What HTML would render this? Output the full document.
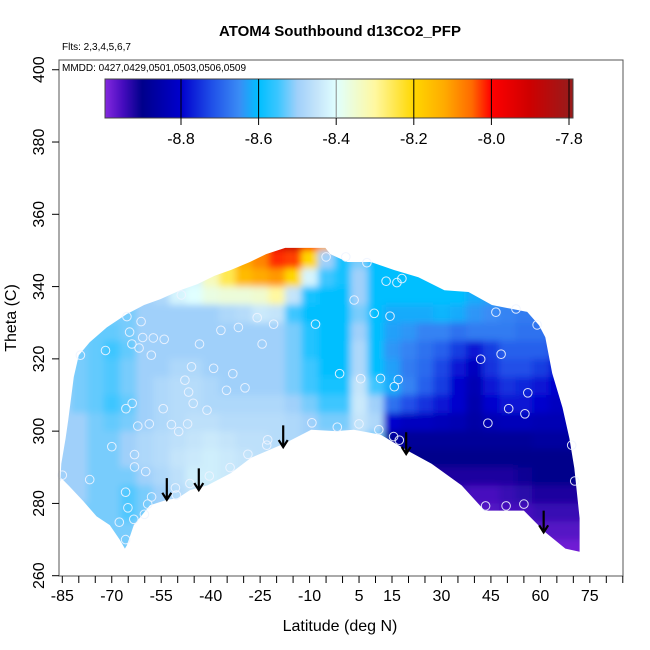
<!DOCTYPE html>
<html><head><meta charset="utf-8">
<style>
html,body{margin:0;padding:0;background:#fff;}
svg{display:block;font-family:"Liberation Sans",sans-serif;}
</style></head>
<body>
<svg id="chart" width="650" height="650" viewBox="0 0 650 650" xmlns="http://www.w3.org/2000/svg">
  <defs>
    <filter id="smooth" x="-5%" y="-5%" width="110%" height="110%"><feGaussianBlur stdDeviation="3.5"/></filter>
    <clipPath id="regionClip"><polygon id="regionPoly" points=""/></clipPath>
  </defs>
  <rect x="0" y="0" width="650" height="650" fill="#fff"/>
  <text x="340" y="36" text-anchor="middle" font-size="15" font-weight="bold">ATOM4 Southbound d13CO2_PFP</text>
  <text x="62" y="50" font-size="10">Flts: 2,3,4,5,6,7</text>
  <g id="heat-clip" clip-path="url(#regionClip)"><g id="heat" filter="url(#smooth)"></g></g>
  <g id="points"></g>
  <g id="arrows"></g>
  <rect x="59" y="60" width="564" height="516" fill="none" stroke="#555" stroke-width="1"/>
  <text x="62" y="71" font-size="10">MMDD: 0427,0429,0501,0503,0506,0509</text>
  <g id="colorbar"></g>
  <g id="xaxis"></g>
  <g id="yaxis"></g>
  <text x="340" y="631" text-anchor="middle" font-size="16">Latitude (deg N)</text>
  <text x="0" y="0" transform="translate(16,318) rotate(-90)" text-anchor="middle" font-size="16">Theta (C)</text>
</svg>
<script>
const latCenters=[-85,-80,-75,-70,-65,-60,-55,-50,-45,-40,-35,-30,-25,-20,-15,-10,-5,0,5,10,15,20,25,30,35,40,45,50,55,60,65,70];
const thetaCenters=[352.5,347.5,342.5,337.5,332.5,327.5,322.5,317.5,312.5,307.5,302.5,297.5,292.5,287.5,282.5,277.5,272.5,267.5];
const zRows=[
[-8.5,-8.5,-8.5,-8.5,-8.5,-8.5,-8.5,-8.5,-8.45,-8.4,-8.35,-8.2,-8.1,-7.92,-7.88,-8.0,-8.12,-8.58,-8.55,-8.6,-8.6,-8.6,-8.6,-8.6,-8.6,-8.62,-8.63,-8.64,-8.65,-8.66,-8.66,-8.66],
[-8.5,-8.5,-8.5,-8.5,-8.5,-8.5,-8.5,-8.48,-8.42,-8.35,-8.25,-8.12,-8.08,-8.02,-8.03,-8.2,-8.5,-8.58,-8.52,-8.6,-8.6,-8.6,-8.6,-8.6,-8.6,-8.62,-8.63,-8.64,-8.65,-8.66,-8.66,-8.66],
[-8.5,-8.5,-8.5,-8.5,-8.5,-8.5,-8.48,-8.45,-8.42,-8.33,-8.25,-8.15,-8.12,-8.1,-8.2,-8.42,-8.55,-8.58,-8.5,-8.6,-8.6,-8.6,-8.6,-8.6,-8.6,-8.62,-8.63,-8.64,-8.65,-8.66,-8.66,-8.66],
[-8.5,-8.5,-8.5,-8.5,-8.5,-8.5,-8.48,-8.42,-8.4,-8.37,-8.36,-8.36,-8.35,-8.3,-8.45,-8.58,-8.6,-8.6,-8.5,-8.6,-8.6,-8.6,-8.6,-8.6,-8.6,-8.62,-8.63,-8.64,-8.65,-8.66,-8.66,-8.66],
[-8.5,-8.5,-8.5,-8.52,-8.52,-8.5,-8.5,-8.5,-8.5,-8.5,-8.48,-8.47,-8.44,-8.45,-8.55,-8.6,-8.6,-8.6,-8.52,-8.6,-8.62,-8.62,-8.62,-8.61,-8.62,-8.64,-8.65,-8.66,-8.67,-8.67,-8.67,-8.67],
[-8.5,-8.52,-8.53,-8.53,-8.52,-8.5,-8.5,-8.5,-8.5,-8.5,-8.5,-8.5,-8.5,-8.5,-8.52,-8.57,-8.6,-8.6,-8.5,-8.6,-8.63,-8.64,-8.66,-8.66,-8.68,-8.67,-8.67,-8.67,-8.68,-8.68,-8.7,-8.7],
[-8.5,-8.52,-8.53,-8.55,-8.53,-8.5,-8.5,-8.5,-8.5,-8.5,-8.5,-8.5,-8.5,-8.5,-8.52,-8.57,-8.6,-8.6,-8.48,-8.6,-8.64,-8.66,-8.68,-8.7,-8.74,-8.78,-8.74,-8.7,-8.7,-8.7,-8.72,-8.74],
[-8.5,-8.52,-8.53,-8.54,-8.52,-8.5,-8.5,-8.48,-8.48,-8.5,-8.5,-8.5,-8.5,-8.5,-8.52,-8.55,-8.6,-8.6,-8.48,-8.6,-8.63,-8.67,-8.69,-8.73,-8.78,-8.82,-8.75,-8.72,-8.72,-8.74,-8.77,-8.78],
[-8.5,-8.52,-8.53,-8.54,-8.52,-8.5,-8.48,-8.47,-8.47,-8.48,-8.5,-8.5,-8.5,-8.5,-8.52,-8.55,-8.58,-8.58,-8.45,-8.55,-8.62,-8.66,-8.7,-8.74,-8.8,-8.84,-8.78,-8.75,-8.76,-8.78,-8.8,-8.8],
[-8.5,-8.52,-8.53,-8.55,-8.53,-8.5,-8.48,-8.47,-8.47,-8.48,-8.48,-8.48,-8.48,-8.48,-8.5,-8.52,-8.55,-8.55,-8.44,-8.5,-8.68,-8.72,-8.75,-8.78,-8.8,-8.85,-8.8,-8.78,-8.78,-8.8,-8.82,-8.82],
[-8.5,-8.5,-8.52,-8.53,-8.52,-8.5,-8.48,-8.47,-8.46,-8.46,-8.47,-8.47,-8.47,-8.47,-8.48,-8.5,-8.52,-8.52,-8.45,-8.48,-8.8,-8.82,-8.82,-8.83,-8.84,-8.86,-8.84,-8.83,-8.83,-8.84,-8.84,-8.84],
[-8.5,-8.5,-8.52,-8.52,-8.5,-8.48,-8.47,-8.46,-8.45,-8.44,-8.45,-8.46,-8.46,-8.47,-8.48,-8.5,-8.5,-8.5,-8.47,-8.52,-8.88,-8.88,-8.88,-8.88,-8.88,-8.88,-8.88,-8.88,-8.88,-8.87,-8.87,-8.87],
[-8.5,-8.5,-8.52,-8.52,-8.5,-8.48,-8.47,-8.45,-8.44,-8.43,-8.44,-8.45,-8.46,-8.47,-8.48,-8.5,-8.5,-8.5,-8.5,-8.7,-8.9,-8.9,-8.9,-8.9,-8.9,-8.9,-8.9,-8.9,-8.9,-8.9,-8.9,-8.9],
[-8.5,-8.5,-8.52,-8.52,-8.52,-8.5,-8.48,-8.46,-8.43,-8.43,-8.44,-8.45,-8.47,-8.5,-8.5,-8.5,-8.5,-8.5,-8.5,-8.8,-8.9,-8.91,-8.92,-8.92,-8.92,-8.92,-8.92,-8.92,-8.91,-8.9,-8.9,-8.9],
[-8.5,-8.5,-8.52,-8.52,-8.54,-8.52,-8.5,-8.47,-8.45,-8.45,-8.5,-8.5,-8.5,-8.5,-8.5,-8.5,-8.5,-8.5,-8.5,-8.8,-8.9,-8.92,-8.92,-8.93,-8.94,-8.95,-8.95,-8.94,-8.93,-8.92,-8.92,-8.92],
[-8.5,-8.52,-8.52,-8.52,-8.54,-8.52,-8.5,-8.5,-8.5,-8.5,-8.5,-8.5,-8.5,-8.5,-8.5,-8.5,-8.5,-8.5,-8.5,-8.8,-8.9,-8.92,-8.93,-8.94,-8.95,-8.96,-8.96,-8.95,-8.95,-8.94,-8.94,-8.94],
[-8.5,-8.52,-8.52,-8.52,-8.52,-8.5,-8.5,-8.5,-8.5,-8.5,-8.5,-8.5,-8.5,-8.5,-8.5,-8.5,-8.5,-8.5,-8.5,-8.8,-8.9,-8.92,-8.93,-8.94,-8.95,-8.96,-8.96,-8.96,-8.96,-8.96,-8.96,-8.96],
[-8.5,-8.52,-8.52,-8.52,-8.52,-8.5,-8.5,-8.5,-8.5,-8.5,-8.5,-8.5,-8.5,-8.5,-8.5,-8.5,-8.5,-8.5,-8.5,-8.8,-8.9,-8.92,-8.93,-8.94,-8.95,-8.96,-8.97,-8.98,-8.98,-8.98,-8.98,-8.98]
];
const topLat=[-85.6,-85.3,-84,-83.2,-81.5,-80,-76.7,-71.5,-65.4,-60.2,-55.3,-49.2,-44,-38.8,-33.9,-28.1,-23.2,-17.4,-5.2,-3.7,1.5,8.6,15.6,23,30.9,38.2,45.3,56,59.6,61.5,63.6,66.7,68.8,70.3,71.9,71.9];
const topTheta=[286,291,298,303,315,321,324.6,328.7,332.4,334.9,336.5,339,340.7,343,344.6,346.8,349,350.7,350.7,349,346.8,346.8,344.6,342.6,339,338.5,334.9,333,329.3,326,316,306.5,298,289.8,275.9,266];
const botLat=[71.9,67.6,61.5,55,43.1,36.1,27,19.9,11.6,3.4,-2.1,-9.5,-17.4,-27.8,-33.9,-41,-46.2,-50.1,-53.2,-58.4,-63.3,-65.4,-66,-67.6,-70.6,-74.6,-78.6,-82.9,-85.3];
const botTheta=[266.6,267.5,272,278,278,285,291,294.5,299,300.4,300,300.4,296.7,292.6,288.4,285,283.7,281.4,281,279.5,274,268.4,267.5,270,274,276.4,280.6,284.8,287];
const ptLat=[-65.4,-61.1,-48.9,-25.9,-20.9,-8.2,-5,1.0,-64.6,-60.6,-57.4,-54.1,-63.9,-61.7,-71.9,-79.5,-58,-43.4,-36.9,-31.6,-24.4,-45.8,-39.1,-47.8,-33.3,-46.7,-35.2,-29.6,-45.3,-41.1,-54.4,-63.8,-65.7,-62.1,-58.6,-51.9,-49.7,-47,-9.3,-1.6,-0.9,-22.7,-23,-28.7,-70,-63.1,-63.1,-59.7,-34.1,-40.4,-46.3,-50.7,-50.4,-57.9,-59.1,-65.8,-65.1,-76.7,-85,-60.1,-63.3,-67.7,-65.8,7.4,13.2,16.5,18,3.5,9.6,14.4,46.5,52.6,59,41.9,48.1,5.5,11.5,16.9,15.7,56.2,50.4,55.3,44.1,5,11,15.5,17.2,69.5,70.4,43.4,49.6,55];
const ptTheta=[331.7,330.3,337.7,331.4,329.6,329.6,348.2,348.2,327.4,325.9,325.8,325.4,324.1,323,322.3,321,321,324.1,327.9,328.7,324.1,317.8,317.4,314.1,315.9,310.8,311.3,312,307.7,305.8,306.2,307.7,306.2,301.4,302,301.8,299.9,302,302.3,301.1,315.9,297.6,296.1,293.6,295.7,293.5,290.1,288.8,289.9,287.6,285.5,284.3,282.3,281.8,279.8,283.1,278.8,286.6,287.8,277,275.6,274.8,270,346.6,341.5,341.1,342.2,336.3,332.6,331.8,332.9,333.8,329.4,319.9,321.3,314.5,314.6,314.3,312.3,310.6,306.2,304.8,302.2,302,300.4,298.5,297.5,296.1,286.2,279.3,279.3,279.8];
const arrowLat=[-53.3,-43.6,-18,19.3,61];
const arrowTheta=[281,283.7,295.6,293.7,272];
const xTickVals=[-85,-80,-75,-70,-65,-60,-55,-50,-45,-40,-35,-30,-25,-20,-15,-10,-5,0,5,10,15,20,25,30,35,40,45,50,55,60,65,70,75,80,85];
const xLabelVals=[-85,-70,-55,-40,-25,-10,5,15,30,45,60,75];
const yTickVals=[260,280,300,320,340,360,380,400];
const cbTickVals=[-8.8,-8.6,-8.4,-8.2,-8.0,-7.8];
const cbTickLabels=["-8.8","-8.6","-8.4","-8.2","-8.0","-7.8"];

const NS="http://www.w3.org/2000/svg";
const X=lat=>62.3+(lat+85)*3.297;
const Y=t=>575.7-(t-260)*3.614;
const CBX=v=>181+(v+8.8)*388;
const cmap=[[-9.0,[138,43,226]],[-8.95,[70,12,190]],[-8.9,[0,0,139]],[-8.8,[0,0,205]],[-8.72,[32,80,232]],[-8.65,[58,140,245]],[-8.6,[0,191,255]],[-8.55,[60,198,255]],[-8.5,[160,208,250]],[-8.45,[196,228,250]],[-8.4,[224,255,255]],[-8.3,[255,248,160]],[-8.2,[255,215,0]],[-8.12,[255,170,0]],[-8.05,[255,106,0]],[-8.0,[255,0,0]],[-7.9,[205,0,0]],[-7.8,[154,26,26]]];
function color(v){
  if(v<=cmap[0][0]) return 'rgb('+cmap[0][1].join(',')+')';
  for(let i=1;i<cmap.length;i++){
    if(v<=cmap[i][0]){
      const a=cmap[i-1],b=cmap[i],f=(v-a[0])/(b[0]-a[0]);
      const c=a[1].map((q,k)=>Math.round(q+(b[1][k]-q)*f));
      return 'rgb('+c.join(',')+')';
    }
  }
  return 'rgb('+cmap[cmap.length-1][1].join(',')+')';
}
function mk(tag,attrs,parent){const e=document.createElementNS(NS,tag);for(const k in attrs)e.setAttribute(k,attrs[k]);parent.appendChild(e);return e;}

const pts=[];
topLat.forEach((l,i)=>pts.push(X(l).toFixed(1)+','+Y(topTheta[i]).toFixed(1)));
botLat.forEach((l,i)=>pts.push(X(l).toFixed(1)+','+Y(botTheta[i]).toFixed(1)));
document.getElementById('regionPoly').setAttribute('points',pts.join(' '));

const heat=document.getElementById('heat');
const dLat=5,dTh=5;
zRows.forEach((row,r)=>{
  row.forEach((v,c)=>{
    let x0=X(latCenters[c]-dLat/2),x1=X(latCenters[c]+dLat/2);
    let y0=Y(thetaCenters[r]+dTh/2),y1=Y(thetaCenters[r]-dTh/2);
    if(c===0)x0-=12; if(c===row.length-1)x1+=12;
    if(r===0)y0-=12; if(r===zRows.length-1)y1+=12;
    const e=mk('rect',{x:x0.toFixed(2),y:y0.toFixed(2),width:(x1-x0+0.6).toFixed(2),height:(y1-y0+0.6).toFixed(2),fill:color(v)},heat);
    
    
  });
});

const pg=document.getElementById('points');
ptLat.forEach((l,i)=>{
  const e=mk('circle',{cx:X(l).toFixed(1),cy:Y(ptTheta[i]).toFixed(1),r:4.3,fill:'none',stroke:'#eef4ff','stroke-width':1,opacity:0.9},pg);
  
  
});

const ag=document.getElementById('arrows');
arrowLat.forEach((l,i)=>{
  const x=X(l),yt=Y(arrowTheta[i]),yb=Y(arrowTheta[i]+6);
  const g=mk('g',{},ag);
  
  
  mk('line',{x1:x,y1:yb,x2:x,y2:yt,stroke:'#000','stroke-width':2.2},g);
  mk('polyline',{points:(x-4.5)+','+(yt-7)+' '+x+','+yt+' '+(x+4.5)+','+(yt-7),fill:'none',stroke:'#000','stroke-width':2.2},g);
});

const cb=document.getElementById('colorbar');
for(let px=105;px<573;px++){
  const v=-8.8+(px+0.5-181)/388;
  const e=mk('rect',{x:px,y:79,width:1.2,height:39,fill:color(v)},cb);
  
  
}
mk('rect',{x:105,y:79,width:468,height:39,fill:'none',stroke:'#444','stroke-width':1},cb);
cbTickVals.forEach((v,i)=>{
  const x=CBX(v);
  mk('line',{x1:x,y1:79,x2:x,y2:118,stroke:v===-8.4?'#888':'#000','stroke-width':1},cb);
  mk('line',{x1:x,y1:118,x2:x,y2:125,stroke:'#000','stroke-width':1},cb);
  const t=mk('text',{x:x,y:144,'text-anchor':'middle','font-size':16},cb);
  t.textContent=cbTickLabels[i];
  
  
});

const xa=document.getElementById('xaxis');
xTickVals.forEach(v=>{
  const x=X(v);
  mk('line',{x1:x,y1:576,x2:x,y2:583,stroke:'#000','stroke-width':1},xa);
});
xLabelVals.forEach(v=>{
  const t=mk('text',{x:X(v),y:601,'text-anchor':'middle','font-size':16},xa);
  t.textContent=String(v);
  
  
});

const ya=document.getElementById('yaxis');
yTickVals.forEach(v=>{
  const y=Y(v);
  mk('line',{x1:52,y1:y,x2:59,y2:y,stroke:'#000','stroke-width':1},ya);
  const t=mk('text',{x:0,y:0,transform:'translate(44,'+y.toFixed(1)+') rotate(-90)','text-anchor':'middle','font-size':16},ya);
  t.textContent=String(v);
  
  
});
</script>
</body></html>
